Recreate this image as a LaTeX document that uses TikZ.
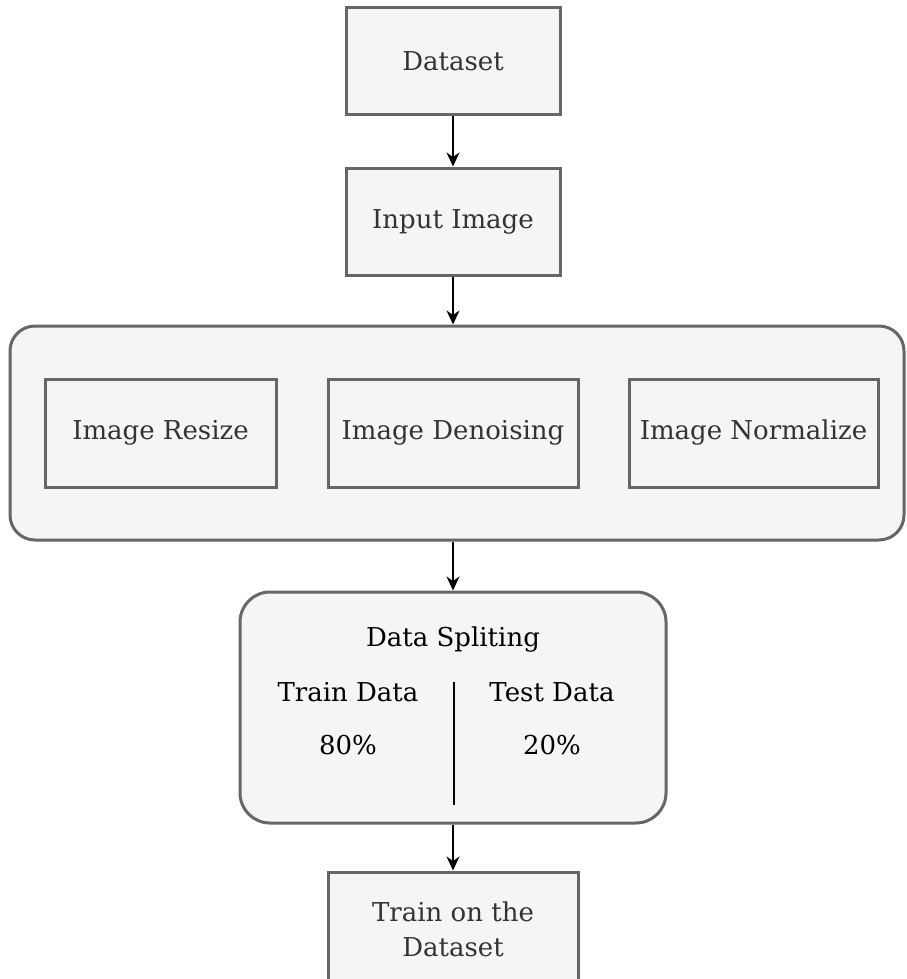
\documentclass[tikz,border=0pt]{standalone}
\usepackage{fontspec}
\setmainfont{DejaVu Serif}
\usetikzlibrary{arrows.meta}
\definecolor{boxline}{HTML}{666666}
\definecolor{boxfill}{HTML}{F5F5F5}
\definecolor{textgray}{HTML}{333333}
\tikzset{
  stagebox/.style={draw=boxline, fill=boxfill, line width=3pt, text=textgray,
    font=\fontsize{26}{35}\selectfont, align=center, inner sep=0pt},
  groupbox/.style={draw=boxline, fill=boxfill, line width=3pt, inner sep=0pt},
  label/.style={font=\fontsize{26}{35}\selectfont, text=black, inner sep=0pt},
  flow/.style={line width=1.8pt, -{Stealth[length=14pt,width=13pt,inset=4.5pt]}}
}
\begin{document}
\begin{tikzpicture}[x=1pt,y=-1pt]
\useasboundingbox (0,0) rectangle (906,979);
\clip (0,0) rectangle (906,979);

% top of the pipeline
\node[stagebox, minimum width=214pt, minimum height=107pt] (dataset) at (453,61.5) {Dataset};
\node[stagebox, minimum width=214pt, minimum height=107pt] (input) at (453,221.5) {Input Image};

% preprocessing group
\node[groupbox, rounded corners=25pt, minimum width=894pt, minimum height=214pt] (prep) at (457,433) {};
\node[stagebox, minimum width=231pt, minimum height=108pt] (resize) at (160.5,433) {Image Resize};
\node[stagebox, minimum width=250pt, minimum height=108pt] (denoise) at (453,433) {Image Denoising};
\node[stagebox, minimum width=249pt, minimum height=108pt] (normalize) at (753.5,433) {Image Normalize};

% data splitting
\node[groupbox, rounded corners=30pt, minimum width=426pt, minimum height=231pt] (split) at (453,707.5) {};
\node[label] (splittitle) at (453,640) {Data Spliting};
\node[label] (traindata) at (348,692) {Train Data};
\node[label] (trainpct) at (348,745) {80\%};
\node[label] (testdata) at (552,692) {Test Data};
\node[label] (testpct) at (552,745) {20\%};
\coordinate (divtop) at (454,682);
\coordinate (divbot) at (454,805);
\draw[line width=1.8pt] (divtop) -- (divbot);

% training
\node[stagebox, minimum width=250pt, minimum height=114pt] (train) at (453,929) {Train on the\\Dataset};

% connectors
\draw[flow] (dataset.south) -- (input.north);
\draw[flow] (input.south) -- (input.south |- prep.north);
\draw[flow] (input.south |- prep.south) -- (split.north);
\draw[flow] (split.south) -- (train.north);
\end{tikzpicture}
\end{document}
